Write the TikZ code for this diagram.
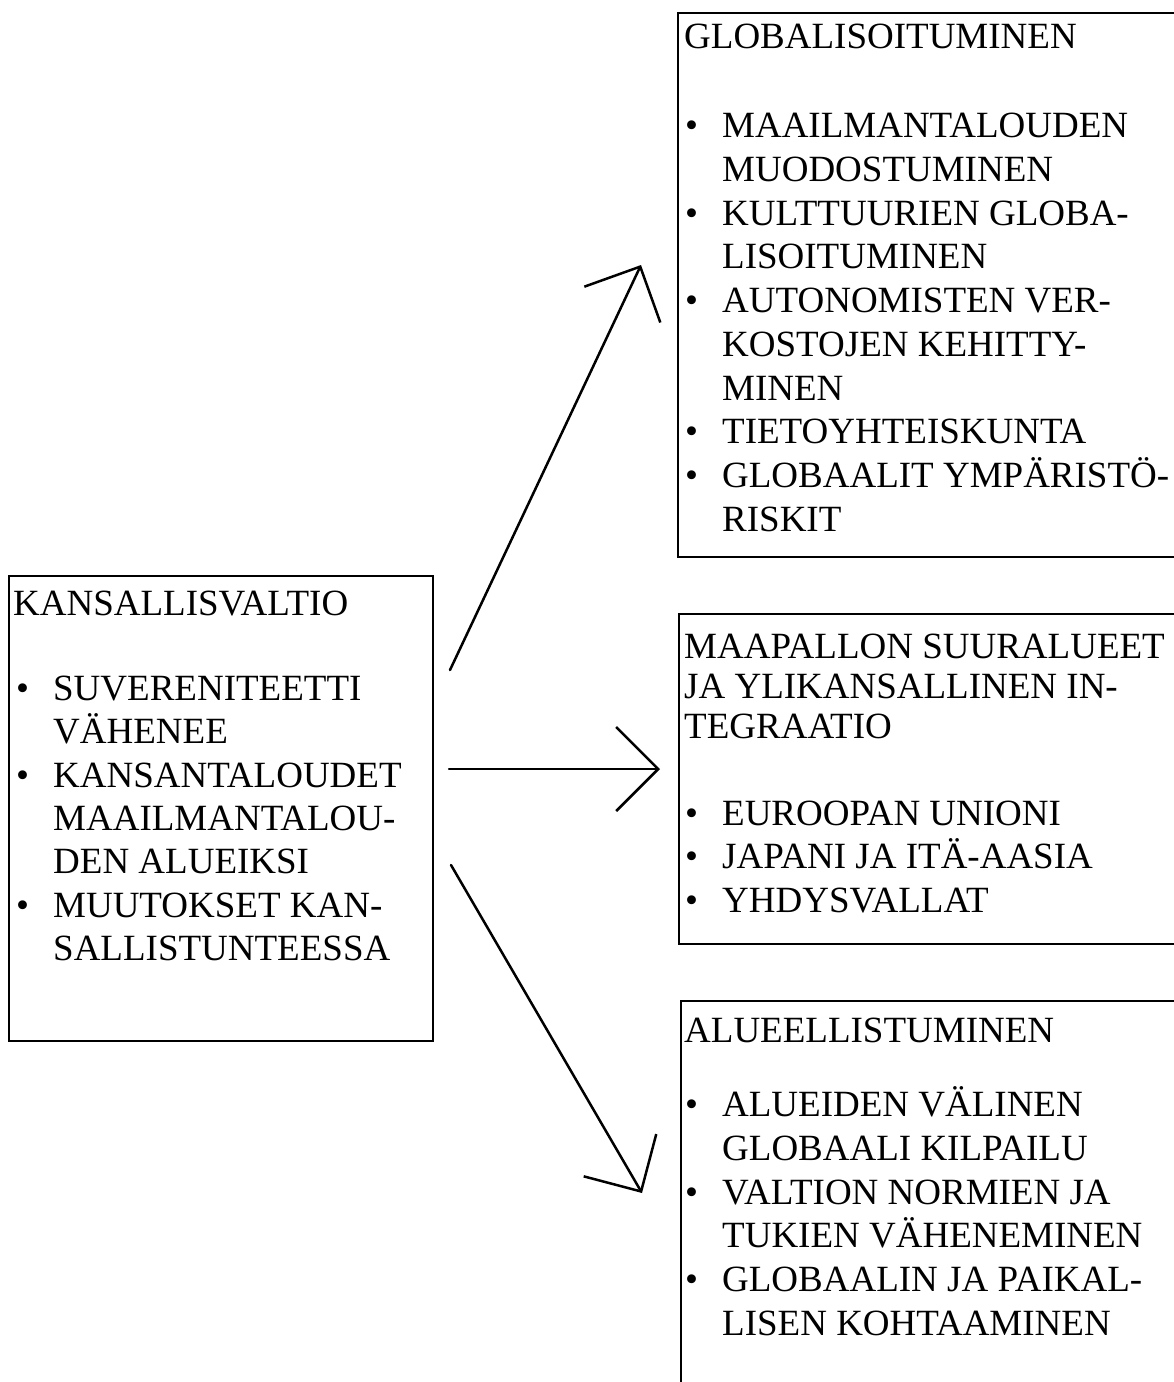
\documentclass[tikz,border=0pt]{standalone}
\usepackage{fontspec}
\setmainfont{Liberation Serif}
\usetikzlibrary{arrows.meta}
\tikzset{
  box/.style={draw, line width=2pt, rectangle, inner sep=0pt, anchor=north west},
  txt/.style={anchor=base west, inner sep=0pt, font=\fontsize{37}{44}\selectfont},
  conn/.style={line width=2.5pt, line cap=round, -{Straight Barb[length=42pt,width=84pt,line join=miter]}}
}
\newcommand{\bul}{\makebox[37pt][l]{•}}
\begin{document}
\begin{tikzpicture}[x=1pt,y=-1pt]
\useasboundingbox (0,0) rectangle (1174,1382);
% boxes
\node[box, minimum width=424pt, minimum height=465pt] (kvbox) at (8,575) {};
\node[box, minimum width=523pt, minimum height=544pt] (glbox) at (677,12) {};
\node[box, minimum width=522pt, minimum height=330pt] (mabox) at (678,613) {};
\node[box, minimum width=520pt, minimum height=400pt] (albox) at (680,1000) {};
% left box text
\node[txt] (k0) at (13,615) {KANSALLISVALTIO};
\node[txt] (k1) at (16,700) {\bul SUVERENITEETTI};
\node[txt] (k2) at (53,743) {VÄHENEE};
\node[txt] (k3) at (16,787) {\bul KANSANTALOUDET};
\node[txt] (k4) at (53,830) {MAAILMANTALOU-};
\node[txt] (k5) at (53,873) {DEN ALUEIKSI};
\node[txt] (k6) at (16,917) {\bul MUUTOKSET KAN-};
\node[txt] (k7) at (53,960) {SALLISTUNTEESSA};
% top right box text
\node[txt] (g0) at (684,48) {GLOBALISOITUMINEN};
\node[txt] (g1) at (685,137) {\bul MAAILMANTALOUDEN};
\node[txt] (g2) at (722,181) {MUODOSTUMINEN};
\node[txt] (g3) at (685,225) {\bul KULTTUURIEN GLOBA-};
\node[txt] (g4) at (722,268) {LISOITUMINEN};
\node[txt] (g5) at (685,312) {\bul AUTONOMISTEN VER-};
\node[txt] (g6) at (722,356) {KOSTOJEN KEHITTY-};
\node[txt] (g7) at (722,400) {MINEN};
\node[txt] (g8) at (685,443) {\bul TIETOYHTEISKUNTA};
\node[txt] (g9) at (685,487) {\bul GLOBAALIT YMPÄRISTÖ-};
\node[txt] (g10) at (722,531) {RISKIT};
% middle right box text
\node[txt] (m0) at (684,658) {MAAPALLON SUURALUEET};
\node[txt] (m1) at (684,698) {JA YLIKANSALLINEN IN-};
\node[txt] (m2) at (684,738) {TEGRAATIO};
\node[txt] (m3) at (685,825) {\bul EUROOPAN UNIONI};
\node[txt] (m4) at (685,868) {\bul JAPANI JA ITÄ-AASIA};
\node[txt] (m5) at (685,912) {\bul YHDYSVALLAT};
% bottom right box text
\node[txt] (a0) at (684,1042) {ALUEELLISTUMINEN};
\node[txt] (a1) at (685,1116) {\bul ALUEIDEN VÄLINEN};
\node[txt] (a2) at (722,1160) {GLOBAALI KILPAILU};
\node[txt] (a3) at (685,1204) {\bul VALTION NORMIEN JA};
\node[txt] (a4) at (722,1247) {TUKIEN VÄHENEMINEN};
\node[txt] (a5) at (685,1291) {\bul GLOBAALIN JA PAIKAL-};
\node[txt] (a6) at (722,1335) {LISEN KOHTAAMINEN};
% arrows
\coordinate (s1) at (450,670);
\coordinate (e1) at (641,265);
\coordinate (s2) at (449,769);
\coordinate (e2) at (660,769);
\coordinate (s3) at (451,865);
\coordinate (e3) at (642,1193);
\draw[conn] (s1) -- (e1);
\draw[conn] (s2) -- (e2);
\draw[conn] (s3) -- (e3);
\end{tikzpicture}
\end{document}
